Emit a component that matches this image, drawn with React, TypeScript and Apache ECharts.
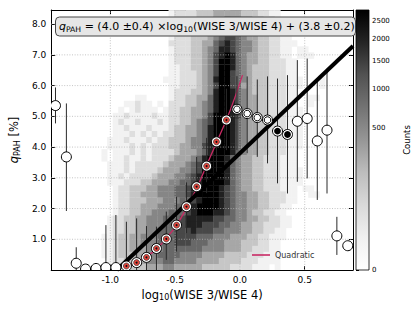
import React, { useEffect, useRef } from 'react';
import * as echarts from 'echarts';

// ---- axes ----
const X_RANGE = [-1.456, 0.8725];
const Y_RANGE = [0, 8.46];
const X_TICKS = [-1.0, -0.5, 0.0, 0.5];
const Y_TICKS = [1, 2, 3, 4, 5, 6, 7, 8];

// ---- 2D histogram: shade level per bin (0 = empty, 9 = darkest), top row first ----
const HIST_X0 = -1.456;
const HIST_DX = 0.0431;
const HIST_DY = 0.1967;
const HIST_ROWS: [number, string][] = [
  [21, '12222333444443332211'],
  [21, '12222333445554433221'],
  [21, '12223334456654433221'],
  [21, '122233344567654433221'],
  [21, '1222333456776544332211'],
  [21, '22223344678765543322111'],
  [21, '1222334568876554332211011'],
  [21, '12223345789865443322110111'],
  [21, '12223345799865443322211'],
  [21, '11223345799865433322211'],
  [21, '11222345799765433322211'],
  [20, '11122234589976543332221110001'],
  [21, '1122234579976443332221110001'],
  [21, '12223345899865433322211'],
  [15, '110000122334468998654433222110011'],
  [13, '1121101022233456899865443322211001'],
  [12, '101211101223344568998754433222111'],
  [11, '1121111211223344579998754433222111'],
  [11, '1211211121223345679998654433222111'],
  [11, '1121112111233445689998654433222111'],
  [11, '1112121212233445689998654433222111'],
  [10, '11121112122333455689998654433222111'],
  [10, '11112121222334455789998654433222111'],
  [9, '10111212122223444568999865443322211'],
  [9, '10112112122234445689998654433222111'],
  [10, '1112122222344456789998654433222111'],
  [10, '11121222234445567999986544332221111'],
  [10, '11212222344455678999986544332221111'],
  [10, '11122233444556678999986544332221111'],
  [11, '122333445556678999987654433222111011'],
  [11, '1223344455566789999876554433222110011'],
  [11, '122333444555667899987655443322211'],
  [11, '12233444555667899998765544332211'],
  [11, '1223344555666789998876554332211'],
  [10, '122334455566678888877665544332211'],
  [10, '122334455566778887776655443322211'],
  [10, '12233445566677787776655544332211'],
  [9, '112334455566677776665554443322111'],
  [9, '11233445556667776665554443332211'],
  [9, '11233444555666666655554443322211'],
  [9, '11233344556666555544443333222111'],
  [10, '1223344555665555444433332221111'],
  [10, '1122333444554444433333222211101'],
];

// ---- binned medians with error bars ----
const BIN_X = [-1.423, -1.339, -1.263, -1.191, -1.110, -1.034, -0.957, -0.876, -0.797, -0.721, -0.644, -0.568, -0.489, -0.412, -0.334, -0.257, -0.181, -0.104, -0.023, 0.056, 0.134, 0.213, 0.290, 0.367, 0.443, 0.519, 0.597, 0.672, 0.748, 0.832];
const BIN_Q = [5.35, 3.68, 0.22, 0.03, 0.05, 0.08, 0.08, 0.13, 0.24, 0.41, 0.70, 1.01, 1.46, 2.06, 2.71, 3.38, 4.17, 4.88, 5.23, 5.09, 4.96, 4.88, 4.52, 4.41, 4.84, 4.93, 4.20, 4.55, 1.11, 0.79];
const BIN_LO: (number | null)[] = [4.77, 1.92, -0.30, null, null, -0.3, -0.3, -0.3, -0.3, -0.2, 0.0, 0.33, 0.60, 1.20, 1.80, 2.50, 3.20, 3.90, 3.90, 3.80, 3.68, 3.47, 2.82, 2.49, 2.87, 2.98, 2.28, 2.49, 0.49, null];
const BIN_HI: (number | null)[] = [5.94, 5.42, 0.74, null, null, 1.46, 1.79, 1.57, 1.68, 1.43, 1.41, 1.90, 2.38, 2.85, 3.68, 4.30, 5.10, 5.90, 6.31, 6.30, 6.20, 6.30, 6.23, 6.34, 6.83, 6.88, 6.18, 6.48, 1.73, null];
// o = open, r = red (used in quadratic fit), w = double ring, k = dark
const BIN_KIND = 'ooooooorrrrrrrrrrrwwwwkkoooooo';

// ---- linear fit line ----
const FIT_X = [-0.95, 0.8725];
const FIT_Q = [0.0, 7.29];

// ---- quadratic curve ----
const QUAD_X = [-0.88, -0.80, -0.72, -0.64, -0.57, -0.49, -0.41, -0.33, -0.26, -0.18, -0.10, -0.04, 0.02];
const QUAD_Q = [0.12, 0.25, 0.43, 0.70, 1.02, 1.45, 2.03, 2.69, 3.38, 4.15, 4.93, 5.60, 6.34];

// ---- colorbar ----
const CB_TICKS = [0, 500, 1000, 1500, 2000, 2500];
const CB_VMAX = 2818;
const CB_GAMMA = 0.35;

const FONT = 'DejaVu Sans';
const GREYS = [255, 240, 217, 189, 150, 115, 82, 37, 0];
function greys(t: number): string {
  const c = Math.max(0, Math.min(1, t)) * 8;
  const i = Math.min(7, Math.floor(c));
  const f = c - i;
  const v = Math.round(GREYS[i] + (GREYS[i + 1] - GREYS[i]) * f);
  return `rgb(${v},${v},${v})`;
}
const cbNorm = (v: number) => Math.pow(v / CB_VMAX, CB_GAMMA);

function buildOption(): any {
  const heatData: number[][] = [];
  HIST_ROWS.forEach(([start, s], k) => {
    const j = HIST_ROWS.length - 1 - k;
    for (let m = 0; m < s.length; m++) {
      const lv = Number(s[m]);
      if (lv > 0) heatData.push([HIST_X0 + (start + m) * HIST_DX, j * HIST_DY, lv]);
    }
  });

  const binData = BIN_X.map((x, i) => [
    x,
    BIN_Q[i],
    BIN_LO[i] ?? BIN_Q[i],
    BIN_HI[i] ?? BIN_Q[i],
    'orwk'.indexOf(BIN_KIND[i]),
  ]);

  const cbStops = [];
  for (let k = 0; k <= 8; k++) cbStops.push({ offset: k / 8, color: greys(1 - k / 8) });

  const tickStyle = { color: '#000', width: 1 };
  const axisLineStyle = { show: true, onZero: false, lineStyle: { color: '#000', width: 1 } };

  return {
    animation: false,
    textStyle: { fontFamily: FONT },
    grid: [
      { left: 48, top: 10, width: 305, height: 260 },
      { left: 356, top: 10, width: 13, height: 260 },
    ],
    legend: {
      data: [{ name: 'Quadratic', icon: 'rect' }],
      left: 252,
      top: 251,
      itemWidth: 18,
      itemHeight: 1.6,
      padding: 0,
      textStyle: { fontSize: 8, color: '#333', fontFamily: FONT },
    },
    xAxis: [
      {
        type: 'value', gridIndex: 0, min: X_RANGE[0], max: X_RANGE[1], position: 'bottom',
        axisLine: axisLineStyle,
        axisTick: { show: true, inside: true, length: 4, customValues: X_TICKS, lineStyle: tickStyle },
        axisLabel: { customValues: X_TICKS, formatter: (v: number) => v.toFixed(1), fontSize: 9, color: '#000', margin: 5, fontFamily: FONT },
        splitLine: { show: false },
        name: '{n|log}{s|10}{n|(WISE 3/WISE 4)}',
        nameLocation: 'middle',
        nameGap: 15,
        nameTextStyle: {
          color: '#000', fontFamily: FONT, fontSize: 11.5,
          rich: {
            n: { fontSize: 11.5, lineHeight: 14, color: '#000', fontFamily: FONT },
            s: { fontSize: 8, lineHeight: 5, verticalAlign: 'bottom', color: '#000', fontFamily: FONT },
          },
        },
      },
      {
        type: 'value', gridIndex: 0, min: X_RANGE[0], max: X_RANGE[1], position: 'top',
        axisLine: axisLineStyle,
        axisTick: { show: true, inside: true, length: 4, customValues: X_TICKS, lineStyle: tickStyle },
        axisLabel: { show: false },
        splitLine: { show: false },
      },
      { type: 'value', gridIndex: 1, min: 0, max: 1, show: false },
    ],
    yAxis: [
      {
        type: 'value', gridIndex: 0, min: Y_RANGE[0], max: Y_RANGE[1], position: 'left',
        axisLine: axisLineStyle,
        axisTick: { show: true, inside: true, length: 4, customValues: Y_TICKS, lineStyle: tickStyle },
        axisLabel: { customValues: Y_TICKS, formatter: (v: number) => v.toFixed(1), fontSize: 9, color: '#000', margin: 5, fontFamily: FONT },
        splitLine: { show: false },
        name: '{q|q}{s|PAH}{n| [%]}',
        nameLocation: 'middle',
        nameGap: 24,
        nameRotate: 90,
        nameTextStyle: {
          color: '#000', fontFamily: FONT, fontSize: 11.5,
          rich: {
            q: { fontSize: 11.5, lineHeight: 14, fontStyle: 'italic', color: '#000', fontFamily: FONT },
            n: { fontSize: 11.5, lineHeight: 14, color: '#000', fontFamily: FONT },
            s: { fontSize: 8, lineHeight: 5, verticalAlign: 'bottom', color: '#000', fontFamily: FONT },
          },
        },
      },
      {
        type: 'value', gridIndex: 0, min: Y_RANGE[0], max: Y_RANGE[1], position: 'right',
        axisLine: axisLineStyle,
        axisTick: { show: true, inside: true, length: 4, customValues: Y_TICKS, lineStyle: tickStyle },
        axisLabel: { show: false },
        splitLine: { show: false },
      },
      {
        type: 'value', gridIndex: 1, min: 0, max: 1, position: 'right',
        axisLine: { show: false },
        axisTick: { show: true, inside: false, length: 3, customValues: CB_TICKS.map(cbNorm), lineStyle: tickStyle },
        axisLabel: {
          customValues: CB_TICKS.map(cbNorm),
          formatter: (v: number) => {
            let best = CB_TICKS[0];
            for (const t of CB_TICKS) if (Math.abs(cbNorm(t) - v) < Math.abs(cbNorm(best) - v)) best = t;
            return String(best);
          },
          fontSize: 7, color: '#000', margin: 3, fontFamily: FONT,
        },
        splitLine: { show: false },
        name: 'Counts',
        nameLocation: 'middle',
        nameGap: 33,
        nameRotate: 90,
        nameTextStyle: { fontSize: 8.5, color: '#000', fontFamily: FONT },
      },
    ],
    graphic: [
      {
        type: 'rect', left: 55, top: 16.5, z: 50,
        shape: { width: 300, height: 19, r: 4 },
        style: { fill: '#e6e6e6', stroke: '#444', lineWidth: 1 },
      },
      {
        type: 'text', x: 59, y: 26, z: 51,
        style: {
          text: '{q|q}{s|PAH}{n| = (4.0 ±0.4) ×log}{s|10}{n|(WISE 3/WISE 4) + (3.8 ±0.2)}',
          verticalAlign: 'middle',
          textVerticalAlign: 'middle',
          fill: '#000',
          fontFamily: FONT,
          fontSize: 11,
          rich: {
            q: { fontSize: 11, lineHeight: 14, fontStyle: 'italic', fill: '#000', fontFamily: FONT },
            n: { fontSize: 11, lineHeight: 14, fill: '#000', fontFamily: FONT },
            s: { fontSize: 7.7, lineHeight: 5, verticalAlign: 'bottom', fill: '#000', fontFamily: FONT },
          },
        },
      },
    ],
    series: [
      {
        type: 'custom', name: 'hist', xAxisIndex: 0, yAxisIndex: 0, z: 1, clip: true, silent: true,
        data: heatData, encode: { x: 0, y: 1 },
        renderItem: (_p: any, api: any) => {
          const x0 = api.value(0), y0 = api.value(1), lv = api.value(2);
          const a = api.coord([x0, y0 + HIST_DY]);
          const b = api.coord([x0 + HIST_DX, y0]);
          return {
            type: 'rect',
            shape: { x: a[0], y: a[1], width: b[0] - a[0] + 0.4, height: b[1] - a[1] + 0.4 },
            style: { fill: greys(lv / 9) },
          };
        },
      },
      {
        type: 'custom', name: 'xgrid', xAxisIndex: 0, yAxisIndex: 0, z: 2, silent: true,
        data: X_TICKS.map((v) => [v, Y_RANGE[0]]), encode: { x: 0, y: 1 },
        renderItem: (_p: any, api: any) => {
          const a = api.coord([api.value(0), Y_RANGE[0]]);
          const b = api.coord([api.value(0), Y_RANGE[1]]);
          return { type: 'line', shape: { x1: a[0], y1: a[1], x2: b[0], y2: b[1] }, style: { stroke: '#b5b5b5', lineWidth: 0.8, lineDash: [1, 1.6] } };
        },
      },
      {
        type: 'custom', name: 'ygrid', xAxisIndex: 0, yAxisIndex: 0, z: 2, silent: true,
        data: Y_TICKS.map((v) => [X_RANGE[0], v]), encode: { x: 0, y: 1 },
        renderItem: (_p: any, api: any) => {
          const a = api.coord([X_RANGE[0], api.value(1)]);
          const b = api.coord([X_RANGE[1], api.value(1)]);
          return { type: 'line', shape: { x1: a[0], y1: a[1], x2: b[0], y2: b[1] }, style: { stroke: '#b5b5b5', lineWidth: 0.8, lineDash: [1, 1.6] } };
        },
      },
      {
        type: 'line', name: 'Quadratic', xAxisIndex: 0, yAxisIndex: 0, z: 3, clip: true, silent: true,
        data: QUAD_X.map((x, i) => [x, QUAD_Q[i]]),
        symbol: 'none', smooth: 0.3,
        lineStyle: { color: '#c92a64', width: 1.3 },
        itemStyle: { color: '#c92a64' },
      },
      {
        type: 'custom', name: 'errbars', xAxisIndex: 0, yAxisIndex: 0, z: 4, clip: true, silent: true,
        data: binData, encode: { x: 0, y: 1 },
        renderItem: (_p: any, api: any) => {
          const a = api.coord([api.value(0), api.value(2)]);
          const b = api.coord([api.value(0), api.value(3)]);
          return { type: 'line', shape: { x1: a[0], y1: a[1], x2: b[0], y2: b[1] }, style: { stroke: '#2a2a2a', lineWidth: 1 } };
        },
      },
      {
        type: 'line', name: 'fit', xAxisIndex: 0, yAxisIndex: 0, z: 5, clip: true, silent: true,
        data: FIT_X.map((x, i) => [x, FIT_Q[i]]),
        symbol: 'none',
        lineStyle: { color: '#000', width: 4 },
      },
      {
        type: 'custom', name: 'markers', xAxisIndex: 0, yAxisIndex: 0, z: 6, clip: true, silent: true,
        data: binData, encode: { x: 0, y: 1 },
        renderItem: (_p: any, api: any) => {
          const c = api.coord([api.value(0), api.value(1)]);
          const kind = api.value(4);
          const children: any[] = [
            { type: 'circle', shape: { cx: c[0], cy: c[1], r: 5 }, style: { fill: '#fff', stroke: '#000', lineWidth: 1 } },
          ];
          if (kind === 1) {
            children.push({ type: 'circle', shape: { cx: c[0], cy: c[1], r: 3 }, style: { fill: '#e8453c', stroke: '#333', lineWidth: 0.7 } });
            children.push({ type: 'circle', shape: { cx: c[0], cy: c[1], r: 1 }, style: { fill: '#111' } });
          } else if (kind === 2) {
            children.push({ type: 'circle', shape: { cx: c[0], cy: c[1], r: 3.3 }, style: { fill: '#fff', stroke: '#000', lineWidth: 1 } });
          } else if (kind === 3) {
            children.push({ type: 'circle', shape: { cx: c[0], cy: c[1], r: 3.4 }, style: { fill: '#000' } });
          }
          return { type: 'group', children };
        },
      },
      {
        type: 'custom', name: 'colorbar', xAxisIndex: 2, yAxisIndex: 2, z: 2, silent: true,
        data: [[0, 0]], encode: { x: 0, y: 1 },
        renderItem: (_p: any, api: any) => {
          const a = api.coord([0, 1]);
          const b = api.coord([1, 0]);
          return {
            type: 'rect',
            shape: { x: a[0], y: a[1], width: b[0] - a[0], height: b[1] - a[1] },
            style: { fill: new echarts.graphic.LinearGradient(0, 0, 0, 1, cbStops), stroke: '#000', lineWidth: 0.8 },
          };
        },
      },
    ],
  };
}

export default function App() {
  const ref = useRef<HTMLDivElement>(null);
  useEffect(() => {
    if (!ref.current) return;
    const chart = echarts.init(ref.current, null, { renderer: 'svg' });
    chart.setOption(buildOption());
    return () => chart.dispose();
  }, []);
  return <div ref={ref} style={{ position: 'fixed', left: 0, top: 0, width: 415, height: 311, background: '#fff' }} />;
}
